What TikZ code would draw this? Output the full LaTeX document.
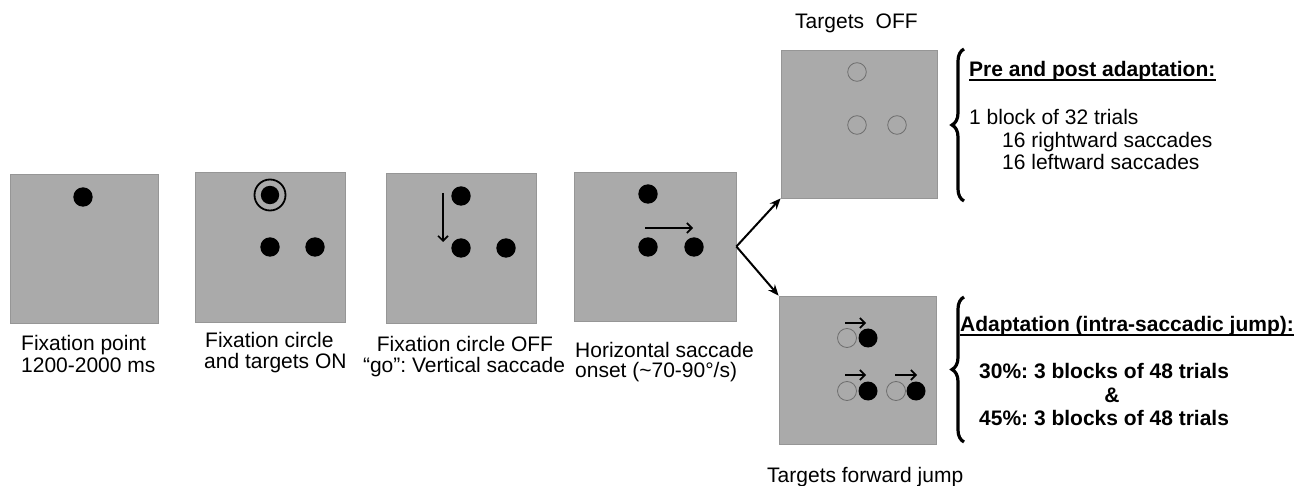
\documentclass[tikz,border=0pt]{standalone}
\usepackage{fontspec}
\setmainfont{Liberation Sans}
\usetikzlibrary{arrows.meta,decorations.pathreplacing}
\definecolor{panelgray}{RGB}{170,170,170}
\definecolor{paneledge}{RGB}{150,150,150}
\definecolor{ringgray}{RGB}{110,110,110}
\frenchspacing
\begin{document}
\begin{tikzpicture}[x=1pt,y=-1pt,
  panel/.style={draw=paneledge,fill=panelgray,line width=0.8pt,inner sep=0pt},
  dot/.style={fill=black},
  hollow/.style={draw=ringgray,line width=0.8pt},
  lbl/.style={inner sep=0pt,font=\fontsize{21}{23}\selectfont},
  blbl/.style={lbl,font=\fontsize{21}{23}\selectfont\bfseries},
  uline/.style={line width=1.4pt},
  bigarrow/.style={line width=2pt,-{Stealth[length=11pt,width=9pt]}},
  smallarrow/.style={line width=1.6pt,-{Straight Barb[length=5pt,width=10pt]}},
  bracestyle/.style={line width=3.2pt,decorate,decoration={brace,amplitude=12pt}}
]
\useasboundingbox[fill=white] (0,0) rectangle (1312,486);

% panels
\node[panel,minimum width=148pt,minimum height=149pt] (p1) at (84,248.5) {};
\node[panel,minimum width=150pt,minimum height=150pt] (p2) at (270,247) {};
\node[panel,minimum width=150pt,minimum height=150pt] (p3) at (461,248) {};
\node[panel,minimum width=162pt,minimum height=149pt] (p4) at (655,246.5) {};
\node[panel,minimum width=156pt,minimum height=148pt] (p5) at (859,124) {};
\node[panel,minimum width=157pt,minimum height=148pt] (p6) at (857.5,370) {};

% panel 1
\fill[dot] (83,197) circle (9.7);
% panel 2
\draw[line width=1.8pt] (270,195) circle (15.5);
\fill[dot] (270,195) circle (9.2);
\fill[dot] (270,247) circle (9.7);
\fill[dot] (315,247) circle (9.7);
% panel 3
\fill[dot] (461,196) circle (9.7);
\fill[dot] (461,248) circle (9.7);
\fill[dot] (506,248) circle (9.7);
\coordinate (va) at (443,193);
\coordinate (vb) at (443,242);
\draw[smallarrow] (va) -- (vb);
% panel 4
\fill[dot] (648,194) circle (9.7);
\fill[dot] (648,247) circle (9.7);
\fill[dot] (694,247) circle (9.7);
\coordinate (ha) at (645,228);
\coordinate (hb) at (693,228);
\draw[smallarrow] (ha) -- (hb);
% panel 5
\draw[hollow] (857,72) circle (9.3);
\draw[hollow] (857,125) circle (9.3);
\draw[hollow] (897,125) circle (9.3);
% panel 6
\draw[hollow] (847,338) circle (9.5);
\fill[dot] (868,338) circle (9.5);
\draw[hollow] (847,391) circle (9.5);
\fill[dot] (868,391) circle (9.5);
\draw[hollow] (896,391) circle (9.5);
\fill[dot] (916,391) circle (9.5);
\coordinate (j1a) at (845,323);
\coordinate (j1b) at (866,323);
\coordinate (j2a) at (845,375);
\coordinate (j2b) at (866,375);
\coordinate (j3a) at (895,375);
\coordinate (j3b) at (917,375);
\draw[smallarrow] (j1a) -- (j1b);
\draw[smallarrow] (j2a) -- (j2b);
\draw[smallarrow] (j3a) -- (j3b);

% main arrows
\draw[bigarrow] (p4.east) -- (p5.south west);
\draw[bigarrow] (p4.east) -- (p6.north west);

% braces
\coordinate (b1s) at (964,201);
\coordinate (b1e) at (964,49);
\coordinate (b2s) at (964,442);
\coordinate (b2e) at (964,297);
\draw[bracestyle] (b1s) -- (b1e);
\draw[bracestyle] (b2s) -- (b2e);

% captions
\node[lbl,anchor=base west] (c1a) at (21,351) {Fixation point};
\node[lbl,anchor=base west] (c1b) at (21,372) {1200-2000 ms};
\node[lbl,anchor=base west] (c2a) at (205,348) {Fixation circle};
\node[lbl,anchor=base west] (c2b) at (204,368) {and targets ON};
\node[lbl,anchor=base] (c3a) at (465,352) {Fixation circle OFF};
\node[lbl,anchor=base] (c3b) at (464,372) {“go”: Vertical saccade};
\node[lbl,anchor=base west] (c4a) at (575,357) {Horizontal saccade};
\node[lbl,anchor=base west] (c4b) at (575,377) {onset (\textasciitilde70-90°/s)};
\node[lbl,anchor=base west] (c5) at (795,29) {Targets\ \ OFF};
\node[lbl,anchor=base west] (c6) at (767,482) {Targets forward jump};

% right texts
\node[blbl,anchor=base west] (t1) at (969,77) {Pre and post adaptation:};
\draw[uline] ([yshift=-3pt]t1.base west) -- ([yshift=-3pt]t1.base east);
\node[lbl,anchor=base west] (t2) at (969,125) {1 block of 32 trials};
\node[lbl,anchor=base west] (t3) at (1002,147.5) {16 rightward saccades};
\node[lbl,anchor=base west] (t4) at (1002,170) {16 leftward saccades};
\node[blbl,anchor=base west] (u1) at (960,332) {Adaptation (intra-saccadic jump):};
\draw[uline] ([yshift=-3pt]u1.base west) -- ([yshift=-3pt]u1.base east);
\node[blbl,anchor=base west] (u2) at (979,378) {30\%: 3 blocks of 48 trials};
\node[blbl,anchor=base] (u3) at (1112,402) {\&};
\node[blbl,anchor=base west] (u4) at (979,425) {45\%: 3 blocks of 48 trials};
\end{tikzpicture}
\end{document}
